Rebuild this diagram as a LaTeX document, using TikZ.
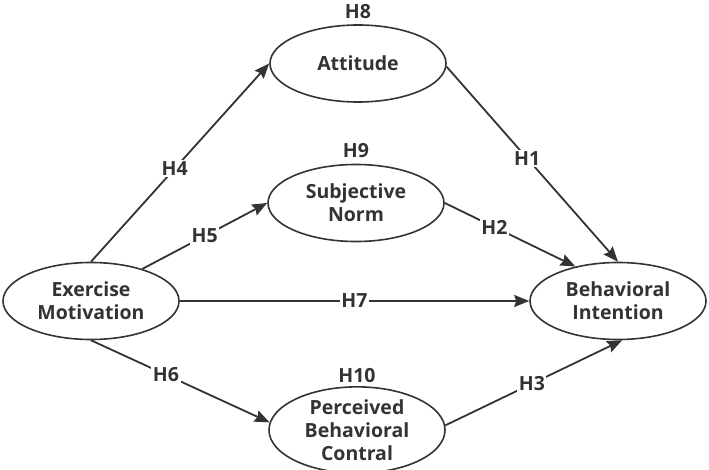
\documentclass[tikz,border=0pt]{standalone}
\usepackage{fontspec}
\setmainfont{Open Sans}
\usetikzlibrary{shapes.geometric, arrows.meta, positioning}
\definecolor{ink}{HTML}{333333}

\begin{document}
\begin{tikzpicture}[x=1pt, y=-1pt,
		every node/.style={font=\bfseries\fontsize{19.5}{23}\selectfont, text=ink},
		construct/.style={ellipse, draw=ink, line width=1.6pt, minimum width=176pt,
			minimum height=77pt, inner sep=0pt, align=center},
		link/.style={draw=ink, line width=1.8pt,
			-{Stealth[length=15pt, width=12pt, inset=2pt]}},
		hyp/.style={fill=white, inner sep=1.5pt}]
		\useasboundingbox (0, 0) rectangle (709, 470);
		
		% the five constructs
		\node[construct] (em) at (91, 301) {Exercise\\Motivation};
		\node[construct] (att) at (358, 63.5) {Attitude};
		\node[construct] (sn) at (356, 203) {Subjective\\Norm};
		\node[construct] (pbc) at (357, 430) {Perceived\\Behavioral\\Contral};
		\node[construct] (bi) at (618, 301) {Behavioral\\Intention};
		
		% mediation labels above the middle row
		\node[above=2pt of att] (h8) {H8};
		\node[above=2pt of sn] (h9) {H9};
		\node[above=0pt of pbc] (h10) {H10};
		
		% paths out of exercise motivation
		\draw[link] (em.north) -- node[hyp, pos=0.47] (h4) {H4} (att.west);
		\draw[link] (em.32) -- node[hyp, pos=0.5] (h5) {H5} (sn.west);
		\draw[link] (em.east) -- node[hyp, pos=0.5] (h7) {H7} (bi.west);
		\draw[link] (em.south) -- node[hyp, pos=0.42] (h6) {H6} (pbc.175);
		
		% paths into behavioral intention
		\draw[link] (att.-2) -- node[hyp, pos=0.47] (h1) {H1} (bi.north);
		\draw[link] (sn.east) -- node[hyp, pos=0.38] (h2) {H2} (bi.141);
		\draw[link] (pbc.3) -- node[hyp, pos=0.49] (h3) {H3} (bi.-84);
	\end{tikzpicture}
\end{document}
